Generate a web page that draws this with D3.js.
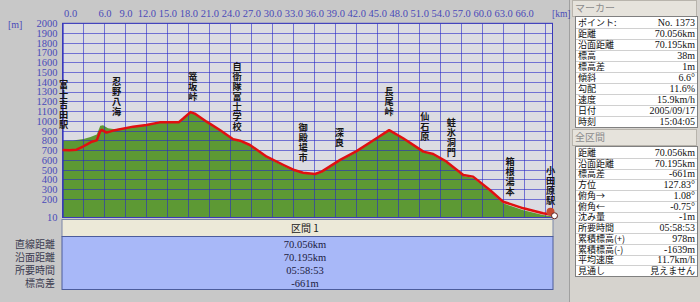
<!DOCTYPE html>
<html>
<head>
<meta charset="utf-8">
<script src="https://cdn.jsdelivr.net/npm/d3@7"></script>
<style>
  body { margin: 0; background: #c8c8c8; }
  svg { display: block; }
</style>
</head>
<body>
<svg width="700" height="302"></svg>
<script>
// GPS track (red line)
const trackKm = [0, 1, 2, 3, 3.5, 4.2, 4.9, 5.35, 5.6, 6.3, 7.5, 10.1, 12, 13.9, 16.6, 17.3, 18.3, 18.9, 20.6, 22.5, 24.4, 25.4, 26.8, 29.2, 31.6, 33, 34.4, 36.1, 37.05, 39.7, 42.05, 44.9, 46.7, 48.7, 51.6, 53, 54.9, 57.3, 58.7, 61.1, 63, 65.9, 68.7, 70.056]
const trackElev = [702, 700, 705, 740, 760, 787, 800, 889, 907, 880, 905, 941, 958, 985, 985, 1027, 1090, 1075, 992, 907, 811, 797, 753, 633, 548, 500, 469, 456, 480, 600, 690, 822, 905, 822, 685, 661, 582, 446, 429, 292, 172, 104, 53, 38]

// terrain profile (green fill)
const terrainKm = [0, 1.5, 3, 4, 4.9, 5.4, 5.8, 6.5, 7.5, 10.1, 12, 13.9, 16.6, 17.3, 18.3, 18.9, 20.6, 22.5, 24.4, 25.4, 26.8, 29.2, 31.6, 33, 34.4, 36.1, 37.05, 39.7, 42.05, 44.9, 46.7, 48.7, 51.6, 53, 54.9, 57.3, 58.7, 61.1, 63, 65.9, 68.7, 70.056]
const terrainElev = [800, 800, 815, 835, 860, 950, 955, 925, 915, 938, 955, 980, 980, 1020, 1085, 1070, 985, 900, 805, 790, 745, 625, 540, 492, 462, 450, 472, 592, 682, 815, 898, 815, 678, 652, 572, 436, 418, 278, 155, 85, 35, 20]

const xTicks = [0, 6, 9, 12, 15, 18, 21, 24, 27, 30, 33, 36, 39, 42, 45, 48, 51, 54, 57, 60, 63, 66]
const yTicks = [2000, 1900, 1800, 1700, 1600, 1500, 1400, 1300, 1200, 1100, 1000, 900, 800, 700, 600, 500, 400, 300, 200]

const places = ['富士吉田駅', '忍野八海', '篭坂峠', '自衛隊富士学校', '御殿場市', '深良', '長尾峠', '仙石原', '蛙氷洞門', '箱根湯本', '小田原駅']
const placeKm = [0.15, 7.75, 18.65, 24.95, 34.4, 39.6, 46.7, 51.8, 55.6, 64.0, 69.8]
const placeTop = [1420, 1450, 1500, 1600, 975, 925, 1345, 1090, 1030, 630, 540]

const sectionNames = ['直線距離', '沿面距離', '所要時間', '標高差']
const sectionValues = ['70.056km', '70.195km', '05:58:53', '-661m']

const markerNames = ['ポイント:', '距離', '沿面距離', '標高', '標高差', '傾斜', '勾配', '速度', '日付', '時刻']
const markerValues = ['No. 1373', '70.056km', '70.195km', '38m', '1m', '6.6°', '11.6%', '15.9km/h', '2005/09/17', '15:04:05']

const totalNames = ['距離', '沿面距離', '標高差', '方位', '俯角→', '俯角←', '沈み量', '所要時間', '累積標高(+)', '累積標高(-)', '平均速度', '見通し']
const totalValues = ['70.056km', '70.195km', '-661m', '127.83°', '1.08°', '-0.75°', '-1m', '05:58:53', '978m', '-1639m', '11.7km/h', '見えません']

const jp = '"Noto Sans CJK JP", sans-serif'
const num = '"Liberation Serif", serif'

const svg = d3.select('svg')

const x = d3.scaleLinear().domain([0, 70.056]).range([62.5, 552.5])
const y = d3.scaleLinear().domain([10, 2000]).range([217.5, 23.3])

// plot background
svg.append('rect')
  .attr('x', x(0)).attr('y', y(2000))
  .attr('width', x(70.056) - x(0)).attr('height', y(10) - y(2000))
  .attr('fill', '#dcdce2')

// terrain
const terrain = terrainKm.map((k, i) => [k, terrainElev[i]])
svg.append('path')
  .datum(terrain)
  .attr('fill', '#5d9934')
  .attr('d', d3.area().x(d => x(d[0])).y0(y(10)).y1(d => y(d[1])))

// grid
const grid = svg.append('g')
  .attr('stroke', '#2a2ac8')
  .attr('stroke-opacity', 0.6)
  .attr('stroke-width', 1)
grid.selectAll('.h')
  .data(yTicks)
  .enter().append('line')
  .attr('x1', x(0)).attr('x2', x(70.056))
  .attr('y1', d => Math.round(y(d)) + 0.5)
  .attr('y2', d => Math.round(y(d)) + 0.5)
grid.selectAll('.v')
  .data(d3.range(0, 70, 3))
  .enter().append('line')
  .attr('x1', d => Math.round(x(d)) + 0.5)
  .attr('x2', d => Math.round(x(d)) + 0.5)
  .attr('y1', y(2000)).attr('y2', y(10))

svg.append('rect')
  .attr('x', x(0)).attr('y', y(2000))
  .attr('width', x(70.056) - x(0)).attr('height', y(10) - y(2000))
  .attr('fill', 'none')
  .attr('stroke', '#3a3ab8')

// track line
const track = trackKm.map((k, i) => [k, trackElev[i]])
svg.append('path')
  .datum(track)
  .attr('fill', 'none')
  .attr('stroke', '#e01010')
  .attr('stroke-width', 2.5)
  .attr('stroke-linejoin', 'round')
  .attr('d', d3.line().x(d => x(d[0])).y(d => y(d[1])))

// end marker
const endKm = trackKm[trackKm.length - 1], endElev = trackElev[trackElev.length - 1]
svg.append('circle')
  .attr('cx', x(endKm) - 2).attr('cy', y(endElev) - 3)
  .attr('r', 4).attr('fill', '#c84a30')
svg.append('circle')
  .attr('cx', x(endKm) + 2).attr('cy', y(endElev) + 1)
  .attr('r', 3).attr('fill', '#fff').attr('stroke', '#602020')

// place labels, written top to bottom
svg.append('g')
  .selectAll('text')
  .data(places)
  .enter().append('text')
  .attr('x', (d, i) => x(placeKm[i]))
  .attr('y', (d, i) => y(placeTop[i]))
  .style('writing-mode', 'vertical-rl')
  .style('letter-spacing', '0.8px')
  .attr('font-family', jp)
  .attr('font-size', 9.2)
  .attr('font-weight', 'bold')
  .attr('fill', '#151515')
  .text(d => d)

// axes
const xAxis = svg.append('g')
  .attr('transform', 'translate(0,20)')
  .call(d3.axisTop(x).tickValues(xTicks).tickFormat(d3.format('.1f')).tickSize(0).tickPadding(3))
const yAxis = svg.append('g')
  .attr('transform', `translate(${x(0)},0)`)
  .call(d3.axisLeft(y).tickValues([...yTicks, 10]).tickFormat(d3.format('d')).tickSize(0).tickPadding(5))
svg.selectAll('.domain').remove()
svg.selectAll('.tick text')
  .attr('font-family', num)
  .attr('font-size', 10.5)
  .attr('fill', '#4a4ab8')
xAxis.selectAll('.tick text')
  .filter(d => d === 0)
  .attr('text-anchor', 'start')
  .attr('x', 1)

svg.append('text')
  .attr('x', 8).attr('y', 28)
  .attr('font-family', num).attr('font-size', 10)
  .attr('fill', '#4a4ab8')
  .text('[m]')

// section panel
svg.append('rect')
  .attr('x', x(0) - 0.5).attr('y', 219.5)
  .attr('width', x(70.056) - x(0) + 1).attr('height', 17)
  .attr('fill', '#ece9d8').attr('stroke', '#7a86a8')
svg.append('text')
  .attr('x', 305).attr('y', 232)
  .attr('text-anchor', 'middle')
  .attr('font-family', jp).attr('font-size', 10)
  .attr('fill', '#202020')
  .text('区間 1')
svg.append('rect')
  .attr('x', x(0) - 0.5).attr('y', 236.5)
  .attr('width', x(70.056) - x(0) + 1).attr('height', 53)
  .attr('fill', '#a8b8f8').attr('stroke', '#4c5c9c')

const secRow = d3.scaleBand().domain(sectionNames).range([237, 290])
svg.append('g').selectAll('text')
  .data(sectionNames)
  .enter().append('text')
  .attr('x', 55).attr('y', d => secRow(d) + secRow.bandwidth() / 2 + 4)
  .attr('text-anchor', 'end')
  .attr('font-family', jp).attr('font-size', 10)
  .attr('fill', '#3c3c50')
  .text(d => d)
svg.append('g').selectAll('text')
  .data(sectionValues)
  .enter().append('text')
  .attr('x', 305).attr('y', (d, i) => secRow(sectionNames[i]) + secRow.bandwidth() / 2 + 4)
  .attr('text-anchor', 'middle')
  .attr('font-family', num).attr('font-size', 10.5)
  .attr('fill', '#202040')
  .text(d => d)

// right panel
svg.append('rect')
  .attr('x', 570).attr('y', 0).attr('width', 130).attr('height', 302)
  .attr('fill', '#d6d3ce')
svg.append('line')
  .attr('x1', 569.5).attr('x2', 569.5).attr('y1', 0).attr('y2', 302)
  .attr('stroke', '#a0a0a0')

svg.append('text')
  .attr('x', 552).attr('y', 17)
  .attr('font-family', num).attr('font-size', 9.5)
  .attr('fill', '#4a4ab8')
  .text('[km]')

function header(top, label) {
  svg.append('rect')
    .attr('x', 572.5).attr('y', top + 0.5).attr('width', 124).attr('height', 16)
    .attr('fill', '#e6e3dc').attr('stroke', '#b8b4ac')
  svg.append('text')
    .attr('x', 575).attr('y', top + 12)
    .attr('font-family', jp).attr('font-size', 10)
    .attr('fill', '#8c8c8c')
    .text(label)
}

function table(top, bottom, names, values) {
  const row = d3.scaleBand().domain(d3.range(names.length)).range([top, bottom])
  const g = svg.append('g')
  g.append('rect')
    .attr('x', 575.5).attr('y', top - 0.5).attr('width', 122).attr('height', bottom - top + 1)
    .attr('fill', '#fff').attr('stroke', '#808080')
  g.selectAll('line')
    .data(d3.range(1, names.length))
    .enter().append('line')
    .attr('x1', 576).attr('x2', 697)
    .attr('y1', d => Math.round(row(d)) + 0.5).attr('y2', d => Math.round(row(d)) + 0.5)
    .attr('stroke', '#d0d0d0')
  g.selectAll('.n')
    .data(names)
    .enter().append('text')
    .attr('x', 578).attr('y', (d, i) => row(i) + row.bandwidth() / 2 + 3.5)
    .attr('font-family', jp).attr('font-size', 9)
    .attr('fill', '#101010')
    .text(d => d)
  g.selectAll('.v')
    .data(values)
    .enter().append('text')
    .attr('x', 695).attr('y', (d, i) => row(i) + row.bandwidth() / 2 + 3.5)
    .attr('text-anchor', 'end')
    .attr('font-family', d => /[^\x00-\x7f°]/.test(d) ? jp : num)
    .attr('font-size', d => /[^\x00-\x7f°]/.test(d) ? 9 : 10)
    .attr('fill', '#101010')
    .text(d => d)
}

header(0, 'マーカー')
table(17, 127, markerNames, markerValues)
header(129, '全区間')
table(147, 276, totalNames, totalValues)
</script>
</body>
</html>
